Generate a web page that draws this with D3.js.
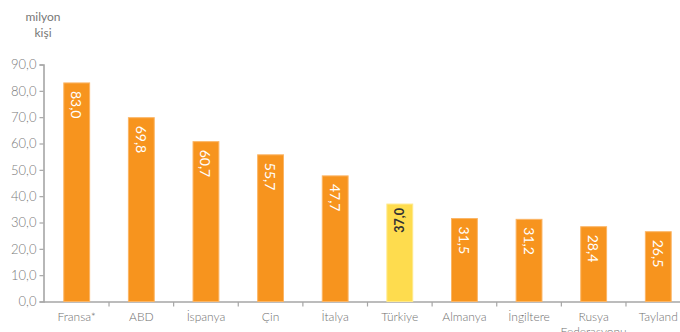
<!DOCTYPE html>
<html>
<head>
<meta charset="utf-8">
<script src="https://cdn.jsdelivr.net/npm/d3@7"></script>
<style>
  html, body { margin: 0; padding: 0; background: #fff; }
  svg { display: block; font-family: Lato, "Open Sans", sans-serif; }
</style>
</head>
<body>
<svg id="chart" width="680" height="332"></svg>
<script>
// Visitor counts by country, million people
const categories = ["Fransa*", "ABD", "İspanya", "Çin", "İtalya", "Türkiye", "Almanya", "İngiltere", "Rusya Federasyonu", "Tayland"];
const values = [83.0, 69.8, 60.7, 55.7, 47.7, 37.0, 31.5, 31.2, 28.4, 26.5];
const highlighted = ["Türkiye"];
const yTicks = [0, 10, 20, 30, 40, 50, 60, 70, 80, 90];
const unitLines = ["milyon", "kişi"];

const fmt = v => d3.format(".1f")(v).replace(".", ",");

const svg = d3.select("#chart");
const axisX = 43.5;
const baseY = 301.5;

const y = d3.scaleLinear().domain([0, 90]).range([baseY, 64.5]);
const x = d3.scaleBand().domain(categories).range([44.4, 690.6]).paddingInner(0.6).paddingOuter(0.3);

const axisColor = "#a6a6a6";

// unit caption above the y axis
svg.append("text")
  .attr("x", 43).attr("y", 21)
  .attr("text-anchor", "middle")
  .attr("fill", "#777")
  .attr("font-size", 12)
  .selectAll("tspan").data(unitLines).join("tspan")
  .attr("x", 43).attr("dy", (d, i) => i ? 16 : 0)
  .text(d => d);

// y axis
const yAxis = svg.append("g")
  .attr("transform", `translate(${axisX},0)`)
  .call(d3.axisLeft(y).tickValues(yTicks).tickFormat(fmt).tickSize(4).tickPadding(3));
yAxis.select(".domain").attr("stroke", axisColor).attr("stroke-width", 1.6);
yAxis.selectAll(".tick line").attr("stroke", axisColor).attr("stroke-width", 1.2);
yAxis.selectAll(".tick text")
  .attr("fill", "#7a7a7a")
  .attr("font-size", 13)
  .attr("font-family", "Lato, sans-serif")
  .attr("font-weight", 300);

// x axis baseline and category separators
const xAxisG = svg.append("g");
xAxisG.append("line")
  .attr("x1", axisX).attr("x2", 690)
  .attr("y1", y(0) + 0.5).attr("y2", y(0) + 0.5)
  .attr("stroke", axisColor).attr("stroke-width", 1.4);
const bounds = d3.range(1, categories.length + 1).map(k => x.range()[0] + k * x.step());
xAxisG.selectAll("line.sep").data(bounds).join("line")
  .attr("class", "sep")
  .attr("x1", d => d).attr("x2", d => d)
  .attr("y1", y(0) + 0.5).attr("y2", y(0) + 5)
  .attr("stroke", axisColor).attr("stroke-width", 1.2);

// category labels
xAxisG.selectAll("text.cat").data(categories).join("text")
  .attr("class", "cat")
  .attr("text-anchor", "middle")
  .attr("fill", "#707070")
  .attr("font-size", 12)
  .attr("font-weight", 300)
  .each(function (d) {
    const cx = x(d) + x.bandwidth() / 2;
    const words = d === "Rusya Federasyonu" ? ["Rusya", "Federasyonu"] : [d];
    d3.select(this).selectAll("tspan").data(words).join("tspan")
      .attr("x", cx)
      .attr("y", (w, i) => 321 + i * 15)
      .text(w => w);
  });

// bars
const data = categories.map((c, i) => ({ c, v: values[i], hi: highlighted.includes(c) }));
svg.append("g").selectAll("rect").data(data).join("rect")
  .attr("x", d => x(d.c))
  .attr("y", d => y(d.v))
  .attr("width", x.bandwidth())
  .attr("height", d => y(0) - y(d.v))
  .attr("fill", d => d.hi ? "#FEDC4E" : "#F7941E")
  .attr("stroke", d => d.hi ? "#FFE98A" : "#FBB565")
  .attr("stroke-width", 1);

// value labels inside the bars
svg.append("g").selectAll("text").data(data).join("text")
  .attr("transform", d => {
    const cx = x(d.c) + x.bandwidth() / 2;
    return d.hi
      ? `translate(${cx},${y(d.v) + 4}) rotate(-90)`
      : `translate(${cx},${y(d.v) + 8}) rotate(90)`;
  })
  .attr("text-anchor", d => d.hi ? "end" : "start")
  .attr("dominant-baseline", "central")
  .attr("fill", d => d.hi ? "#333" : "#fff")
  .attr("font-size", d => d.hi ? 12.5 : 14)
  .attr("font-weight", d => d.hi ? 700 : 400)
  .text(d => fmt(d.v));
</script>
</body>
</html>
